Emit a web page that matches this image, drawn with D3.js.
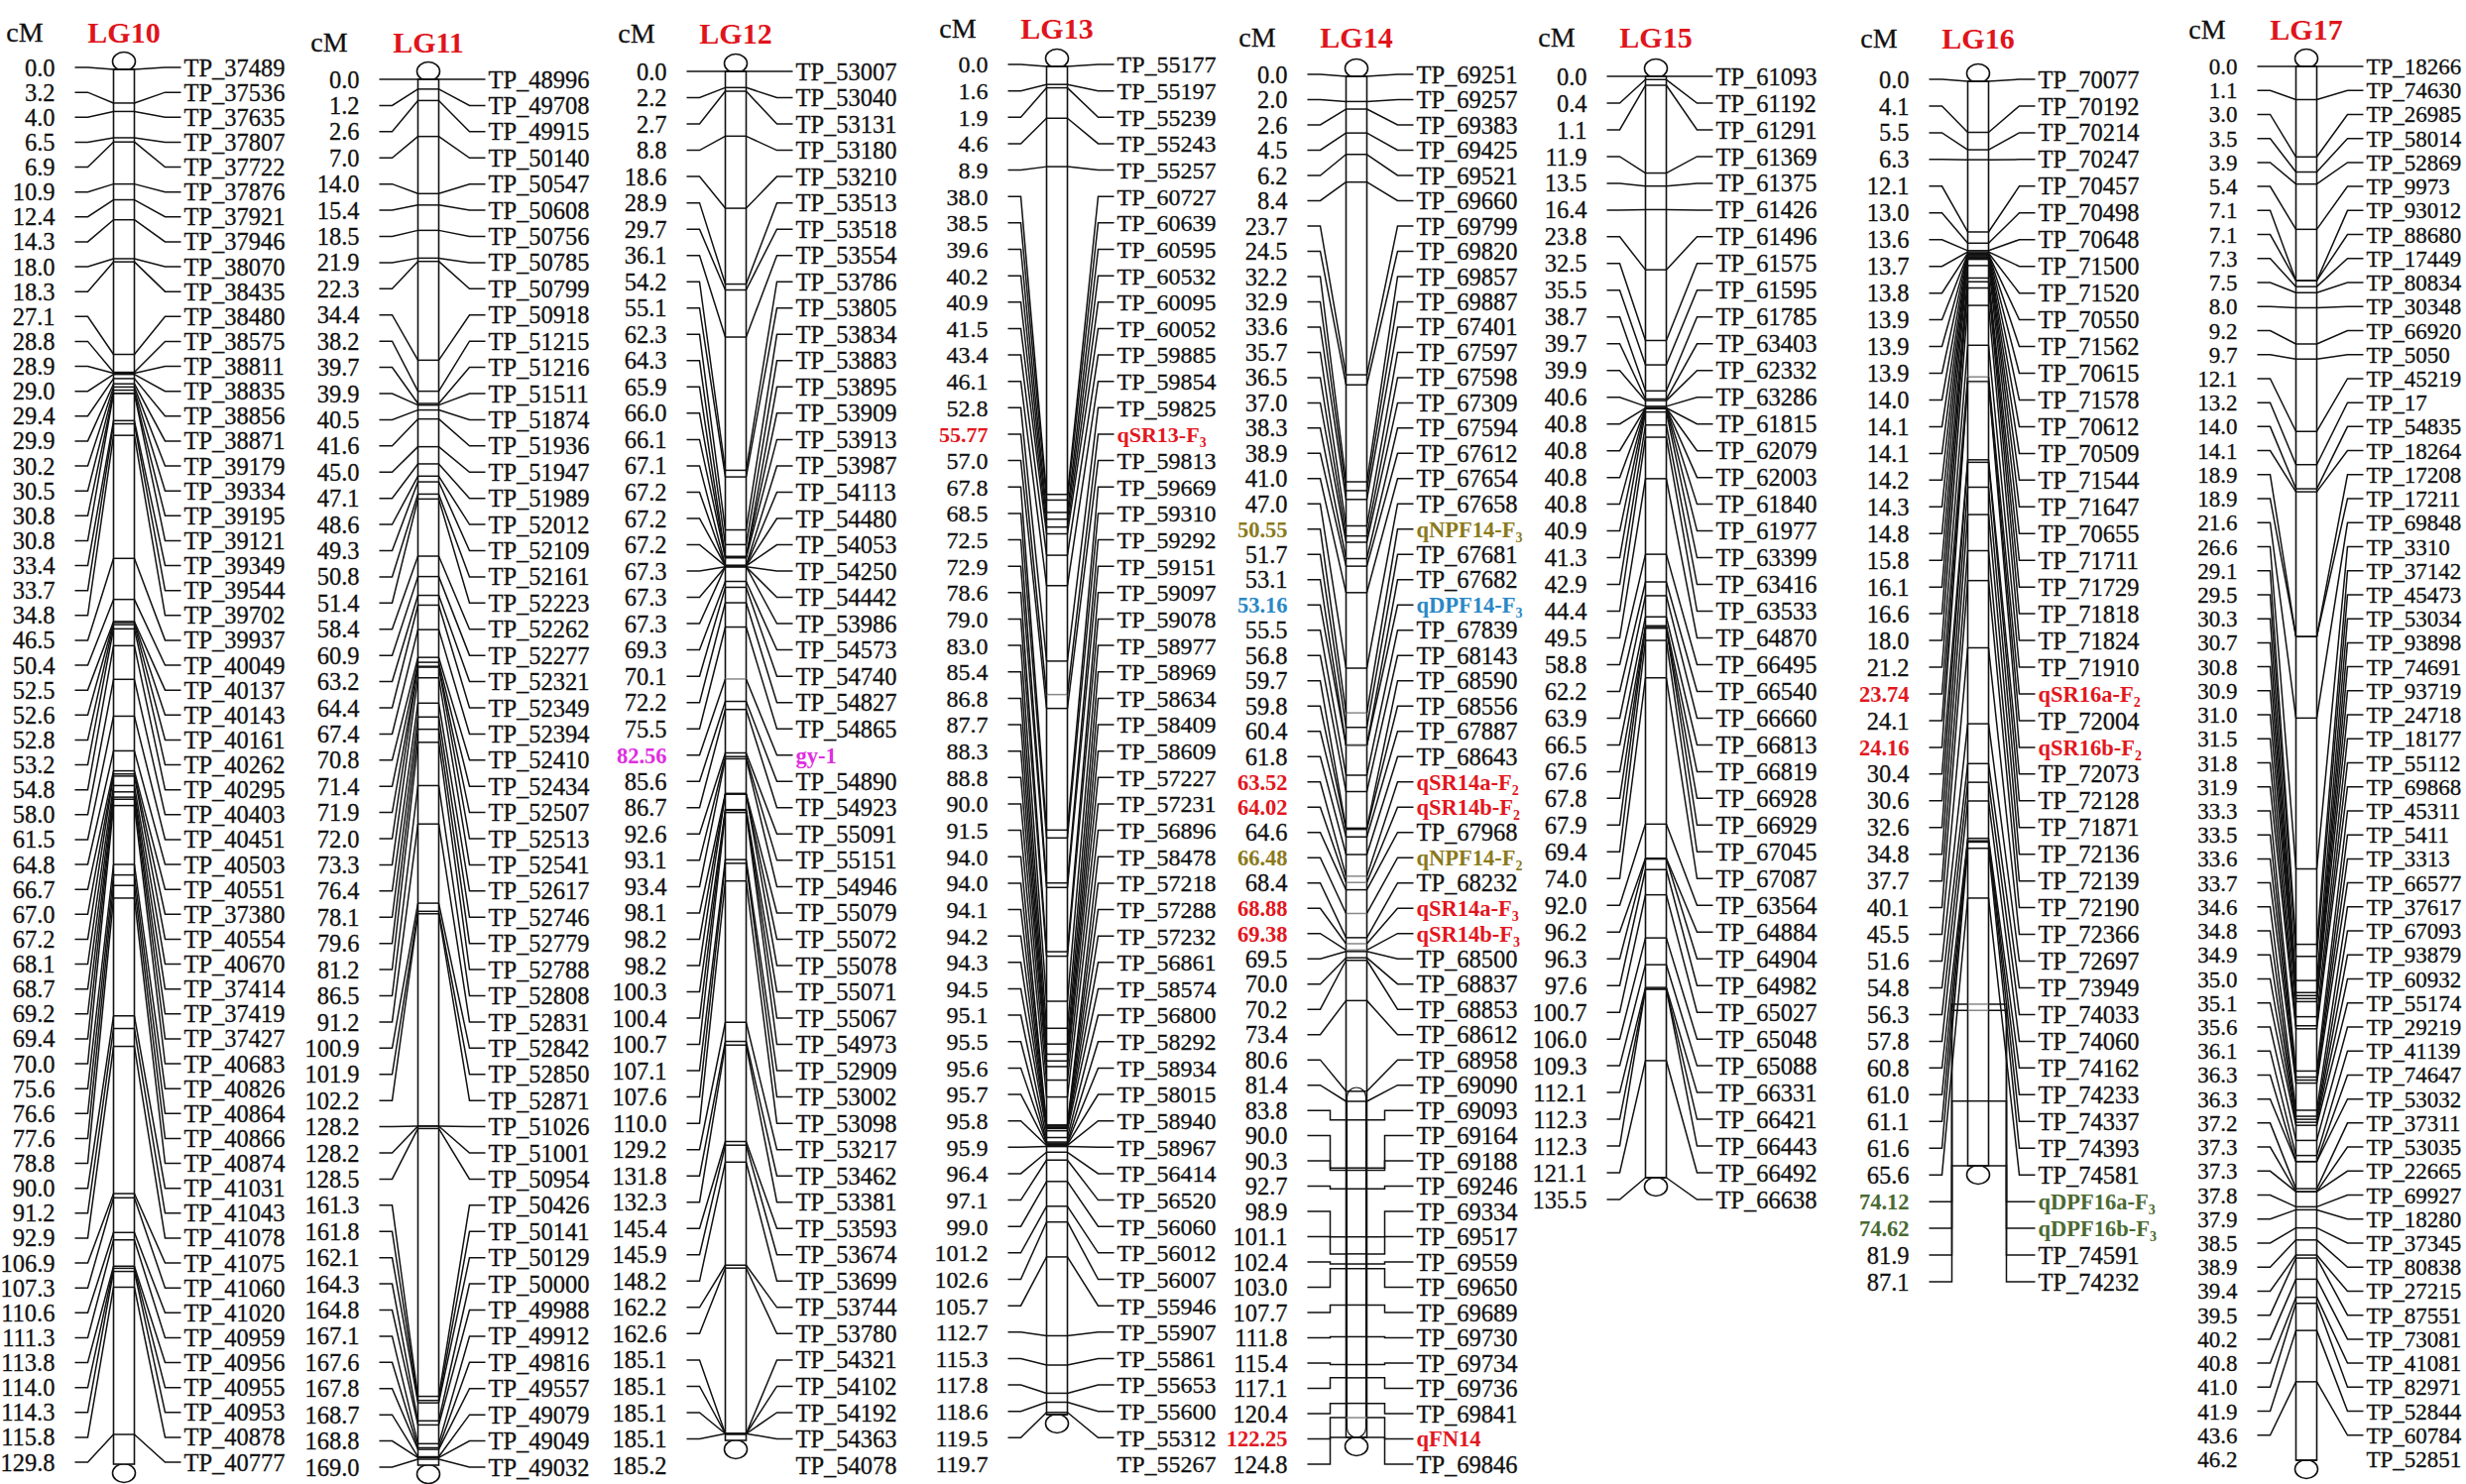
<!DOCTYPE html>
<html><head><meta charset="utf-8">
<script src="https://cdn.jsdelivr.net/npm/d3@7/dist/d3.min.js"></script>
<style>html,body{margin:0;padding:0;background:#fff;} svg{display:block;}</style>
</head><body>
<svg id="chart" width="2487" height="1497"></svg>
<script>
// ---------------- DATA ----------------
const groups = ["LG10","LG11","LG12","LG13","LG14","LG15","LG16","LG17"];

const lg10cM = [0.0,3.2,4.0,6.5,6.9,10.9,12.4,14.3,18.0,18.3,27.1,28.8,28.9,29.0,29.4,29.9,30.2,30.5,30.8,30.8,33.4,33.7,34.8,46.5,50.4,52.5,52.6,52.8,53.2,54.8,58.0,61.5,64.8,66.7,67.0,67.2,68.1,68.7,69.2,69.4,70.0,75.6,76.6,77.6,78.8,90.0,91.2,92.9,106.9,107.3,110.6,111.3,113.8,114.0,114.3,115.8,129.8];
const lg10Markers = ["TP_37489","TP_37536","TP_37635","TP_37807","TP_37722","TP_37876","TP_37921","TP_37946","TP_38070","TP_38435","TP_38480","TP_38575","TP_38811","TP_38835","TP_38856","TP_38871","TP_39179","TP_39334","TP_39195","TP_39121","TP_39349","TP_39544","TP_39702","TP_39937","TP_40049","TP_40137","TP_40143","TP_40161","TP_40262","TP_40295","TP_40403","TP_40451","TP_40503","TP_40551","TP_37380","TP_40554","TP_40670","TP_37414","TP_37419","TP_37427","TP_40683","TP_40826","TP_40864","TP_40866","TP_40874","TP_41031","TP_41043","TP_41078","TP_41075","TP_41060","TP_41020","TP_40959","TP_40956","TP_40955","TP_40953","TP_40878","TP_40777"];

const lg11cM = [0.0,1.2,2.6,7.0,14.0,15.4,18.5,21.9,22.3,34.4,38.2,39.7,39.9,40.5,41.6,45.0,47.1,48.6,49.3,50.8,51.4,58.4,60.9,63.2,64.4,67.4,70.8,71.4,71.9,72.0,73.3,76.4,78.1,79.6,81.2,86.5,91.2,100.9,101.9,102.2,128.2,128.2,128.5,161.3,161.8,162.1,164.3,164.8,167.1,167.6,167.8,168.7,168.8,169.0];
const lg11Markers = ["TP_48996","TP_49708","TP_49915","TP_50140","TP_50547","TP_50608","TP_50756","TP_50785","TP_50799","TP_50918","TP_51215","TP_51216","TP_51511","TP_51874","TP_51936","TP_51947","TP_51989","TP_52012","TP_52109","TP_52161","TP_52223","TP_52262","TP_52277","TP_52321","TP_52349","TP_52394","TP_52410","TP_52434","TP_52507","TP_52513","TP_52541","TP_52617","TP_52746","TP_52779","TP_52788","TP_52808","TP_52831","TP_52842","TP_52850","TP_52871","TP_51026","TP_51001","TP_50954","TP_50426","TP_50141","TP_50129","TP_50000","TP_49988","TP_49912","TP_49816","TP_49557","TP_49079","TP_49049","TP_49032"];

const lg12cM = [0.0,2.2,2.7,8.8,18.6,28.9,29.7,36.1,54.2,55.1,62.3,64.3,65.9,66.0,66.1,67.1,67.2,67.2,67.2,67.3,67.3,67.3,69.3,70.1,72.2,75.5,82.56,85.6,86.7,92.6,93.1,93.4,98.1,98.2,98.2,100.3,100.4,100.7,107.1,107.6,110.0,129.2,131.8,132.3,145.4,145.9,148.2,162.2,162.6,185.1,185.1,185.1,185.1,185.2];
const lg12Markers = ["TP_53007","TP_53040","TP_53131","TP_53180","TP_53210","TP_53513","TP_53518","TP_53554","TP_53786","TP_53805","TP_53834","TP_53883","TP_53895","TP_53909","TP_53913","TP_53987","TP_54113","TP_54480","TP_54053","TP_54250","TP_54442","TP_53986","TP_54573","TP_54740","TP_54827","TP_54865","gy-1","TP_54890","TP_54923","TP_55091","TP_55151","TP_54946","TP_55079","TP_55072","TP_55078","TP_55071","TP_55067","TP_54973","TP_52909","TP_53002","TP_53098","TP_53217","TP_53462","TP_53381","TP_53593","TP_53674","TP_53699","TP_53744","TP_53780","TP_54321","TP_54102","TP_54192","TP_54363","TP_54078"];

const lg13cM = [0.0,1.6,1.9,4.6,8.9,38.0,38.5,39.6,40.2,40.9,41.5,43.4,46.1,52.8,55.77,57.0,67.8,68.5,72.5,72.9,78.6,79.0,83.0,85.4,86.8,87.7,88.3,88.8,90.0,91.5,94.0,94.0,94.1,94.2,94.3,94.5,95.1,95.5,95.6,95.7,95.8,95.9,96.4,97.1,99.0,101.2,102.6,105.7,112.7,115.3,117.8,118.6,119.5,119.7];
const lg13Markers = ["TP_55177","TP_55197","TP_55239","TP_55243","TP_55257","TP_60727","TP_60639","TP_60595","TP_60532","TP_60095","TP_60052","TP_59885","TP_59854","TP_59825","qSR13-F3","TP_59813","TP_59669","TP_59310","TP_59292","TP_59151","TP_59097","TP_59078","TP_58977","TP_58969","TP_58634","TP_58409","TP_58609","TP_57227","TP_57231","TP_56896","TP_58478","TP_57218","TP_57288","TP_57232","TP_56861","TP_58574","TP_56800","TP_58292","TP_58934","TP_58015","TP_58940","TP_58967","TP_56414","TP_56520","TP_56060","TP_56012","TP_56007","TP_55946","TP_55907","TP_55861","TP_55653","TP_55600","TP_55312","TP_55267"];

const lg14cM = [0.0,2.0,2.6,4.5,6.2,8.4,23.7,24.5,32.2,32.9,33.6,35.7,36.5,37.0,38.3,38.9,41.0,47.0,50.55,51.7,53.1,53.16,55.5,56.8,59.7,59.8,60.4,61.8,63.52,64.02,64.6,66.48,68.4,68.88,69.38,69.5,70.0,70.2,73.4,80.6,81.4,83.8,90.0,90.3,92.7,98.9,101.1,102.4,103.0,107.7,111.8,115.4,117.1,120.4,122.25,124.8];
const lg14Markers = ["TP_69251","TP_69257","TP_69383","TP_69425","TP_69521","TP_69660","TP_69799","TP_69820","TP_69857","TP_69887","TP_67401","TP_67597","TP_67598","TP_67309","TP_67594","TP_67612","TP_67654","TP_67658","qNPF14-F3","TP_67681","TP_67682","qDPF14-F3","TP_67839","TP_68143","TP_68590","TP_68556","TP_67887","TP_68643","qSR14a-F2","qSR14b-F2","TP_67968","qNPF14-F2","TP_68232","qSR14a-F3","qSR14b-F3","TP_68500","TP_68837","TP_68853","TP_68612","TP_68958","TP_69090","TP_69093","TP_69164","TP_69188","TP_69246","TP_69334","TP_69517","TP_69559","TP_69650","TP_69689","TP_69730","TP_69734","TP_69736","TP_69841","qFN14","TP_69846"];

const lg15cM = [0.0,0.4,1.1,11.9,13.5,16.4,23.8,32.5,35.5,38.7,39.7,39.9,40.6,40.8,40.8,40.8,40.8,40.9,41.3,42.9,44.4,49.5,58.8,62.2,63.9,66.5,67.6,67.8,67.9,69.4,74.0,92.0,96.2,96.3,97.6,100.7,106.0,109.3,112.1,112.3,112.3,121.1,135.5];
const lg15Markers = ["TP_61093","TP_61192","TP_61291","TP_61369","TP_61375","TP_61426","TP_61496","TP_61575","TP_61595","TP_61785","TP_63403","TP_62332","TP_63286","TP_61815","TP_62079","TP_62003","TP_61840","TP_61977","TP_63399","TP_63416","TP_63533","TP_64870","TP_66495","TP_66540","TP_66660","TP_66813","TP_66819","TP_66928","TP_66929","TP_67045","TP_67087","TP_63564","TP_64884","TP_64904","TP_64982","TP_65027","TP_65048","TP_65088","TP_66331","TP_66421","TP_66443","TP_66492","TP_66638"];

const lg16cM = [0.0,4.1,5.5,6.3,12.1,13.0,13.6,13.7,13.8,13.9,13.9,13.9,14.0,14.1,14.1,14.2,14.3,14.8,15.8,16.1,16.6,18.0,21.2,23.74,24.1,24.16,30.4,30.6,32.6,34.8,37.7,40.1,45.5,51.6,54.8,56.3,57.8,60.8,61.0,61.1,61.6,65.6,74.12,74.62,81.9,87.1];
const lg16Markers = ["TP_70077","TP_70192","TP_70214","TP_70247","TP_70457","TP_70498","TP_70648","TP_71500","TP_71520","TP_70550","TP_71562","TP_70615","TP_71578","TP_70612","TP_70509","TP_71544","TP_71647","TP_70655","TP_71711","TP_71729","TP_71818","TP_71824","TP_71910","qSR16a-F2","TP_72004","qSR16b-F2","TP_72073","TP_72128","TP_71871","TP_72136","TP_72139","TP_72190","TP_72366","TP_72697","TP_73949","TP_74033","TP_74060","TP_74162","TP_74233","TP_74337","TP_74393","TP_74581","qDPF16a-F3","qDPF16b-F3","TP_74591","TP_74232"];

const lg17cM = [0.0,1.1,3.0,3.5,3.9,5.4,7.1,7.1,7.3,7.5,8.0,9.2,9.7,12.1,13.2,14.0,14.1,18.9,18.9,21.6,26.6,29.1,29.5,30.3,30.7,30.8,30.9,31.0,31.5,31.8,31.9,33.3,33.5,33.6,33.7,34.6,34.8,34.9,35.0,35.1,35.6,36.1,36.3,36.3,37.2,37.3,37.3,37.8,37.9,38.5,38.9,39.4,39.5,40.2,40.8,41.0,41.9,43.6,46.2];
const lg17Markers = ["TP_18266","TP_74630","TP_26985","TP_58014","TP_52869","TP_9973","TP_93012","TP_88680","TP_17449","TP_80834","TP_30348","TP_66920","TP_5050","TP_45219","TP_17","TP_54835","TP_18264","TP_17208","TP_17211","TP_69848","TP_3310","TP_37142","TP_45473","TP_53034","TP_93898","TP_74691","TP_93719","TP_24718","TP_18177","TP_55112","TP_69868","TP_45311","TP_5411","TP_3313","TP_66577","TP_37617","TP_67093","TP_93879","TP_60932","TP_55174","TP_29219","TP_41139","TP_74647","TP_53032","TP_37311","TP_53035","TP_22665","TP_69927","TP_18280","TP_37345","TP_80838","TP_27215","TP_87551","TP_73081","TP_41081","TP_82971","TP_52844","TP_60784","TP_52851"];

// QTL names and their colour class
const qtlNames = ["gy-1","qSR13-F3","qNPF14-F3","qDPF14-F3","qSR14a-F2","qSR14b-F2","qNPF14-F2","qSR14a-F3","qSR14b-F3","qFN14","qSR16a-F2","qSR16b-F2","qDPF16a-F3","qDPF16b-F3"];
const qtlClass  = ["magenta","red","olive","blue","red","red","olive","red","red","red","red","red","green","green"];
// markers drawn without a connector line
const noLink = ["TP_54078","TP_55267","TP_52851"];

// ---------------- STYLE / LAYOUT ----------------
const palette = {red:"#e2171e", olive:"#8a7a1c", blue:"#2a88c6", green:"#4a6a33", magenta:"#e02ee0"};
const titleRed = "#e0141b";
const table = {
  LG10:{cM:lg10cM, m:lg10Markers}, LG11:{cM:lg11cM, m:lg11Markers}, LG12:{cM:lg12cM, m:lg12Markers},
  LG13:{cM:lg13cM, m:lg13Markers}, LG14:{cM:lg14cM, m:lg14Markers}, LG15:{cM:lg15cM, m:lg15Markers},
  LG16:{cM:lg16cM, m:lg16Markers}, LG17:{cM:lg17cM, m:lg17Markers}
};
const layout = {
  LG10:{cx:125,  headY:32, row:[68,1475], range:[70,1447],  tail:30, fs:24.5},
  LG11:{cx:432,  headY:42, row:[80,1480], range:[80,1472],  tail:6,  fs:24.5},
  LG12:{cx:742,  headY:33, row:[72,1478], range:[72,1447],  tail:6,  fs:24.5},
  LG13:{cx:1066, headY:28, row:[65,1477], range:[67,1427],  tail:0,  fs:24},
  LG14:{cx:1368, headY:37, row:[75,1477], range:[77,1111,1450], split:81.4, tail:0, fs:24.5},
  LG15:{cx:1670, headY:37, row:[77,1210], range:[77,1188],  tail:0,  step:null, fs:24.5},
  LG16:{cx:1995, headY:38, row:[80,1293], range:[82,1176],  tail:0,  step:65.6, fs:24.5},
  LG17:{cx:2326, headY:29, row:[67,1472], range:[67,1473],  tail:0,  fs:23}
};
const BW = 21;
const FONT = "'Liberation Serif','Times New Roman',serif";

const svg = d3.select("#chart");
svg.append("rect").attr("width",2487).attr("height",1497).attr("fill","#fff");

function qtlColor(name){ const i = qtlNames.indexOf(name); return i<0 ? null : palette[qtlClass[i]]; }

function writeLabel(sel, str, fs){
  const mm = str.match(/^(.*-F)(\d)$/);
  if(mm){
    sel.append("tspan").text(mm[1]);
    sel.append("tspan").attr("font-size", fs*0.62).attr("dy", fs*0.22).text(mm[2]);
  } else sel.text(str);
}

const line = d3.line();

groups.forEach(id => {
  const L = layout[id], D = table[id];
  const n = D.cM.length;
  const maxCM = d3.max(D.cM);
  const dom = L.split ? [0, L.split, maxCM] : [0, maxCM];
  const y = d3.scaleLinear().domain(dom).range(L.range);
  const row = d3.scaleLinear().domain([0, n-1]).range(L.row);
  const bl = L.cx - BW/2, br = L.cx + BW/2;
  const g = svg.append("g").attr("font-family", FONT);

  // headers
  g.append("text").attr("x", L.cx-100).attr("y", L.headY).attr("dy","0.35em")
    .attr("text-anchor","middle").attr("font-size",28).attr("fill","#111")
    .attr("stroke","#111").attr("stroke-width",0.3).text("cM");
  g.append("text").attr("x", L.cx).attr("y", L.headY).attr("dy","0.35em")
    .attr("text-anchor","middle").attr("font-size",30).attr("font-weight","bold")
    .attr("fill", titleRed).text(id);

  // chromosome bar
  const top = y(0), bot = y(maxCM) + L.tail;
  const cap = g.append("g").attr("fill","#fff").attr("stroke","#111").attr("stroke-width",1.6);
  cap.append("ellipse").attr("cx",L.cx).attr("cy",top-8).attr("rx",BW/2+1).attr("ry",9.5);
  cap.append("ellipse").attr("cx",L.cx).attr("cy",bot+9).attr("rx",BW/2+1).attr("ry",9.5);
  g.append("rect").attr("x",bl).attr("y",top).attr("width",BW).attr("height",bot-top)
    .attr("fill","#fff").attr("stroke","#111").attr("stroke-width",1.6);
  if(L.split){
    const sTop = y(L.split) - 14;
    g.append("rect").attr("x",bl+1).attr("y",sTop).attr("width",BW-2).attr("height",bot-sTop)
      .attr("rx",BW/2-1).attr("fill","#fff").attr("stroke","#111").attr("stroke-width",1.2);
  }

  // ticks
  g.append("g").selectAll("line").data(D.cM).join("line")
    .attr("x1",bl).attr("x2",br)
    .attr("y1",d=>y(d)).attr("y2",d=>y(d))
    .attr("stroke",(d,i)=> qtlColor(D.m[i]) ? "#888" : "#111")
    .attr("stroke-width",1.5);

  // connectors
  const conn = g.append("g").attr("fill","none").attr("stroke","#111").attr("stroke-width",1.5);
  D.cM.forEach((v,i) => {
    if(noLink.includes(D.m[i])) return;
    const ry = row(i), my = y(v);
    const stepped = (L.split && v > L.split) || (L.step && v > L.step);
    let left, right;
    if(stepped){
      left  = [[bl-39,ry],[bl-16,ry],[bl-16,my],[bl,my]];
      right = [[br,my],[br+18,my],[br+18,ry],[br+47,ry]];
    } else {
      left  = [[bl-39,ry],[bl-26,ry],[bl,my]];
      right = [[br,my],[br+31,ry],[br+47,ry]];
    }
    conn.append("path").attr("d", line(left));
    conn.append("path").attr("d", line(right));
  });

  // labels
  D.cM.forEach((v,i) => {
    const name = D.m[i];
    const col = qtlColor(name);
    const ry = row(i);
    const fs = col ? L.fs - 2 : L.fs;
    const txt = col ? v.toFixed(2) : v.toFixed(1);
    g.append("text").attr("x", bl-59).attr("y", ry).attr("dy","0.35em")
      .attr("text-anchor","end").attr("font-size", fs)
      .attr("font-weight", col ? "bold" : "normal")
      .attr("fill", col || "#111").attr("stroke", col || "#111").attr("stroke-width", col ? 0 : 0.3)
      .text(txt);
    const t = g.append("text").attr("x", br+50).attr("y", ry).attr("dy","0.35em")
      .attr("font-size", fs).attr("font-weight", col ? "bold" : "normal")
      .attr("fill", col || "#111").attr("stroke", col || "#111").attr("stroke-width", col ? 0 : 0.3);
    writeLabel(t, name, fs);
  });
});
</script>
</body></html>
